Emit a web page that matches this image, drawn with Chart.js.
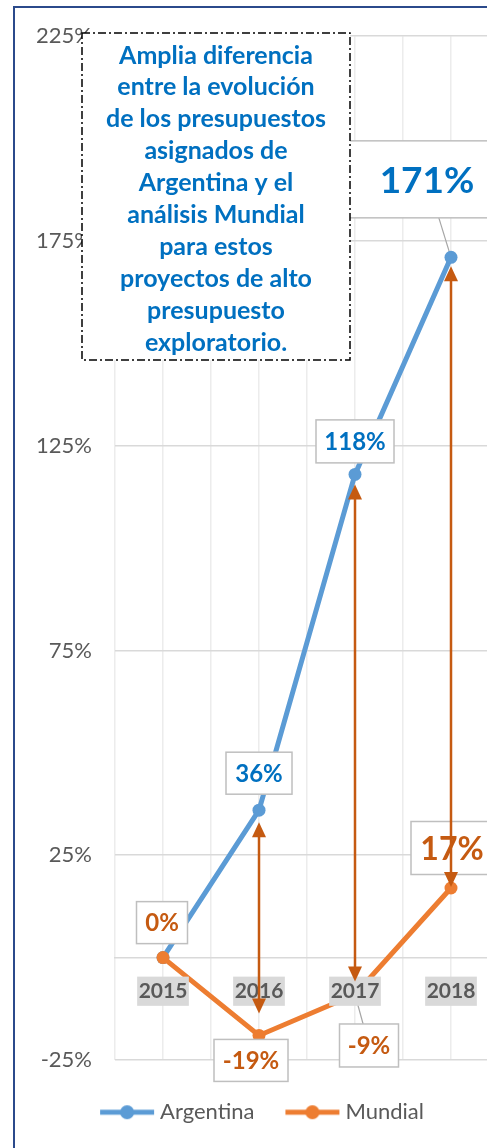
<!DOCTYPE html>
<html>
<head>
<meta charset="utf-8">
<script src="https://cdn.jsdelivr.net/npm/chart.js@4.4.1/dist/chart.umd.min.js"></script>
<style>
html, body { margin: 0; padding: 0; background: #fff; overflow: hidden; }
#frame { position: absolute; left: 13px; top: 6px; width: 620px; height: 1220px;
  border-left: 2px solid #2b4a8b; border-top: 2px solid #2b4a8b; }
#wrap { position: absolute; left: 0; top: 0; }
</style>
</head>
<body>
<div id="frame"></div>
<div id="wrap"><canvas id="chart" width="520" height="1148"></canvas></div>
<script>
// ---- data ----
const years = [2015, 2016, 2017, 2018];
const argentina = [0, 36, 118, 171];
const mundial = [0, -19, -9, 17];
const yMin = -25, yMax = 225, yStep = 50;

const noteLines = [
    'Amplia diferencia',
    'entre la evolución',
    'de los presupuestos',
    'asignados de',
    'Argentina y el',
    'análisis Mundial',
    'para estos',
    'proyectos de alto',
    'presupuesto',
    'exploratorio.'
];

// ---- styles ----
const BLUE = '#5b9bd5', ORANGE = '#ed7d31', ARROW = '#c55a11', TXT_BLUE = '#0070c0', GREY = '#595959';
const FONT = 'Lato';

// label boxes, relative to the point they belong to
const argLabelStyle = [
    null,
    { dx: 0, dy: -37, w: 66, h: 42, size: 24 },
    { dx: 0, dy: -33, w: 78, h: 43, size: 24 },
    { dx: -24, dy: -78, w: 156, h: 77, size: 37, leader: true }
];
const munLabelStyle = [
    { dx: -1, dy: -35, w: 51, h: 42, size: 24 },
    { dx: -8, dy: 25, w: 74, h: 42, size: 24 },
    { dx: 14, dy: 51, w: 59, h: 43, size: 24, leader: true },
    { dx: 1, dy: -40, w: 82, h: 53, size: 32 }
];
const arrowGapTop = [0, 12, 10, 9];
const arrowGapBottom = [0, 22, 13, 1];

function legendIcon(color) {
    const c = document.createElement('canvas');
    c.width = 56; c.height = 16;
    const g = c.getContext('2d');
    g.strokeStyle = color; g.lineWidth = 5;
    g.beginPath(); g.moveTo(1, 8); g.lineTo(55, 8); g.stroke();
    g.fillStyle = color;
    g.beginPath(); g.arc(28, 8, 7, 0, Math.PI * 2); g.fill();
    return c;
}
const icons = [legendIcon(BLUE), legendIcon(ORANGE)];

function eachLabel(chart, fn) {
    const xs = chart.scales.x, ys = chart.scales.y;
    [[argentina, argLabelStyle, TXT_BLUE], [mundial, munLabelStyle, ARROW]].forEach(([vals, styles, color]) => {
        vals.forEach((v, i) => {
            const st = styles[i];
            if (!st) return;
            const px = xs.getPixelForValue(years[i]), py = ys.getPixelForValue(v);
            fn({ v, st, color, px, py, cx: px + st.dx, cy: py + st.dy });
        });
    });
}

const decorPlugin = {
    id: 'decor',
    beforeDatasetsDraw(chart) {
        const ctx = chart.ctx;
        ctx.save();
        ctx.strokeStyle = '#a6a6a6';
        ctx.lineWidth = 1.2;
        eachLabel(chart, l => {
            if (!l.st.leader) return;
            ctx.beginPath(); ctx.moveTo(l.cx, l.cy); ctx.lineTo(l.px, l.py); ctx.stroke();
        });
        ctx.restore();
    },
    afterDraw(chart) {
        const ctx = chart.ctx;
        const xs = chart.scales.x, ys = chart.scales.y;
        ctx.save();
        // data labels
        eachLabel(chart, l => {
            ctx.fillStyle = '#fff';
            ctx.strokeStyle = '#bfbfbf';
            ctx.lineWidth = 1.5;
            ctx.fillRect(l.cx - l.st.w / 2, l.cy - l.st.h / 2, l.st.w, l.st.h);
            ctx.strokeRect(l.cx - l.st.w / 2, l.cy - l.st.h / 2, l.st.w, l.st.h);
            ctx.fillStyle = l.color;
            ctx.font = `bold ${l.st.size}px ${FONT}`;
            ctx.textAlign = 'center';
            ctx.textBaseline = 'alphabetic';
            ctx.fillText(l.v + '%', l.cx, l.cy + l.st.size * 0.36);
        });
        // double arrows between the two series
        ctx.strokeStyle = ARROW; ctx.fillStyle = ARROW; ctx.lineWidth = 2.5;
        years.forEach((yr, i) => {
            if (argentina[i] === mundial[i]) return;
            const x = xs.getPixelForValue(yr);
            const top = ys.getPixelForValue(argentina[i]) + arrowGapTop[i];
            const bot = ys.getPixelForValue(mundial[i]) - arrowGapBottom[i];
            const hl = 15, hw = 7;
            ctx.beginPath(); ctx.moveTo(x, top + hl - 1); ctx.lineTo(x, bot - hl + 1); ctx.stroke();
            ctx.beginPath(); ctx.moveTo(x, top); ctx.lineTo(x - hw, top + hl); ctx.lineTo(x + hw, top + hl); ctx.closePath(); ctx.fill();
            ctx.beginPath(); ctx.moveTo(x, bot); ctx.lineTo(x - hw, bot - hl); ctx.lineTo(x + hw, bot - hl); ctx.closePath(); ctx.fill();
        });
        // note box
        const bx = 82, by = 33, bw = 268, bh = 327;
        ctx.fillStyle = '#fff';
        ctx.fillRect(bx, by, bw, bh);
        ctx.strokeStyle = '#000'; ctx.lineWidth = 1.5;
        ctx.setLineDash([8, 3, 2, 3]);
        ctx.strokeRect(bx, by, bw, bh);
        ctx.setLineDash([]);
        ctx.fillStyle = TXT_BLUE;
        ctx.font = `bold 25px ${FONT}`;
        ctx.textAlign = 'center';
        noteLines.forEach((t, i) => ctx.fillText(t, bx + bw / 2, 54.5 + i * 31.9 + 9));
        ctx.restore();
    }
};

Chart.defaults.font.family = FONT;

new Chart(document.getElementById('chart'), {
    type: 'line',
    data: {
        datasets: [
            {
                label: 'Argentina',
                data: years.map((x, i) => ({ x, y: argentina[i] })),
                borderColor: BLUE, backgroundColor: BLUE,
                borderWidth: 5, pointRadius: 6.5, pointBorderWidth: 0, pointBackgroundColor: BLUE,
                order: 1
            },
            {
                label: 'Mundial',
                data: years.map((x, i) => ({ x, y: mundial[i] })),
                borderColor: ORANGE, backgroundColor: ORANGE,
                borderWidth: 5, pointRadius: 6.5, pointBorderWidth: 0, pointBackgroundColor: ORANGE,
                order: 0
            }
        ]
    },
    options: {
        responsive: false,
        animation: false,
        layout: { padding: { left: 30, top: 36, right: 21, bottom: 14.8 } },
        plugins: {
            tooltip: { enabled: false },
            legend: {
                position: 'bottom',
                title: { display: true, text: '', font: { size: 1 }, padding: { top: 4, bottom: 0 } },
                labels: {
                    usePointStyle: true, pointStyleWidth: 44, padding: 36,
                    color: GREY, font: { size: 22 },
                    generateLabels: chart => {
                        const items = Chart.defaults.plugins.legend.labels.generateLabels(chart);
                        items.forEach(it => { it.pointStyle = icons[it.datasetIndex]; });
                        return items.sort((a, b) => a.datasetIndex - b.datasetIndex);
                    }
                }
            }
        },
        scales: {
            x: {
                type: 'linear',
                position: { y: 0 },
                min: years[0] - 0.5, max: years[years.length - 1] + 0.5,
                grid: { color: '#ececec', lineWidth: 1.5, drawTicks: true, tickLength: 18, tickColor: 'rgba(0,0,0,0)' },
                border: { display: true, color: '#d9d9d9', width: 1.5 },
                ticks: {
                    stepSize: 0.5, z: 1, autoSkip: false, maxRotation: 0,
                    color: GREY, font: { size: 21, weight: 'bold' },
                    callback: v => Number.isInteger(v) ? String(v) : '',
                    showLabelBackdrop: c => Number.isInteger(c.tick.value),
                    backdropColor: '#d9d9d9',
                    backdropPadding: { x: 1.5, y: 2 }
                }
            },
            y: {
                min: yMin, max: yMax,
                afterFit: s => { s.width = 85; },
                grid: { color: '#d9d9d9', lineWidth: 1.5, drawTicks: false },
                border: { display: false },
                ticks: {
                    stepSize: yStep, padding: 23,
                    color: GREY, font: { size: 22 },
                    callback: v => v + '%'
                }
            }
        }
    },
    plugins: [decorPlugin]
});
</script>
</body>
</html>
